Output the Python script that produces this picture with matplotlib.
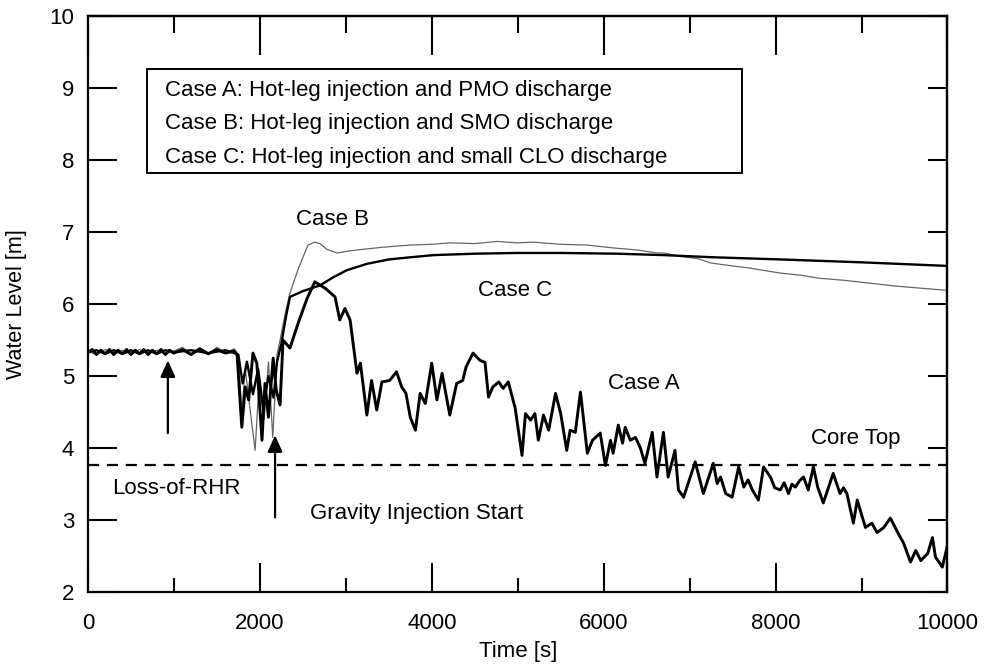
import numpy as np
import matplotlib
matplotlib.use("Agg")
import matplotlib.pyplot as plt
from matplotlib.patches import Rectangle

plt.rcParams['font.family'] = ['Liberation Sans', 'DejaVu Sans']

# Case A: hot-leg injection, PMO discharge
t_a = [0, 50, 100, 150, 200, 250, 300, 350, 400, 450, 500, 550, 600, 650, 700,
       750, 800, 850, 900, 950, 1000, 1100, 1200, 1300, 1400, 1500, 1600, 1700,
       1735, 1790, 1830, 1870, 1920, 1965, 2025, 2060, 2100, 2155, 2190, 2235,
       2270, 2350, 2450, 2550, 2640, 2760, 2875, 2930, 2990, 3050, 3130, 3170,
       3245, 3300, 3360, 3420, 3510, 3590, 3650, 3700, 3750, 3810, 3865, 3925,
       4000, 4060, 4120, 4210, 4290, 4360, 4400, 4480, 4560, 4620, 4660, 4710,
       4780, 4830, 4890, 4970, 5050, 5090, 5150, 5200, 5240, 5300, 5360, 5440,
       5500, 5570, 5610, 5670, 5730, 5810, 5870, 5960, 6020, 6080, 6110, 6170,
       6220, 6250, 6310, 6370, 6425, 6480, 6565, 6620, 6695, 6750, 6830, 6870,
       6930, 7065, 7160, 7275, 7320, 7360, 7420, 7495, 7570, 7630, 7680, 7730,
       7800, 7860, 7940, 7990, 8055, 8100, 8150, 8190, 8230, 8280, 8325, 8380,
       8440, 8490, 8555, 8670, 8750, 8790, 8830, 8905, 8950, 9045, 9120, 9180,
       9260, 9335, 9430, 9490, 9570, 9630, 9690, 9770, 9825, 9860, 9940, 10000]
lvl_a = [5.33, 5.37, 5.30, 5.36, 5.31, 5.37, 5.30, 5.36, 5.31, 5.37, 5.30, 5.36,
         5.31, 5.37, 5.30, 5.36, 5.31, 5.37, 5.30, 5.36, 5.32, 5.37, 5.30, 5.38,
         5.31, 5.37, 5.32, 5.35, 5.30, 4.29, 4.85, 4.67, 5.32, 5.18, 4.11, 4.90,
         4.43, 5.25, 4.81, 4.60, 5.50, 5.39, 5.75, 6.08, 6.31, 6.22, 6.10, 5.78,
         5.94, 5.78, 5.04, 5.18, 4.46, 4.94, 4.53, 4.92, 4.94, 5.06, 4.85, 4.76,
         4.43, 4.25, 4.76, 4.62, 5.18, 4.67, 5.04, 4.46, 4.90, 4.94, 5.13, 5.32,
         5.22, 5.19, 4.71, 4.85, 4.92, 4.83, 4.92, 4.56, 3.90, 4.48, 4.39, 4.48,
         4.11, 4.46, 4.25, 4.76, 4.48, 3.97, 4.25, 4.22, 4.78, 3.93, 4.11, 4.21,
         3.76, 4.11, 3.93, 4.32, 4.07, 4.29, 4.11, 4.15, 4.01, 3.79, 4.22, 3.60,
         4.22, 3.60, 3.97, 3.42, 3.32, 3.81, 3.37, 3.79, 3.51, 3.60, 3.37, 3.32,
         3.74, 3.46, 3.56, 3.42, 3.28, 3.74, 3.60, 3.45, 3.42, 3.52, 3.37, 3.50,
         3.46, 3.55, 3.60, 3.42, 3.74, 3.46, 3.24, 3.65, 3.37, 3.45, 3.37, 2.96,
         3.28, 2.90, 2.96, 2.83, 2.90, 3.03, 2.81, 2.68, 2.42, 2.58, 2.44, 2.54,
         2.76, 2.49, 2.35, 2.65]

# Case B: hot-leg injection, SMO discharge
t_b = [0, 100, 200, 300, 400, 500, 600, 700, 800, 900, 1000, 1100, 1200, 1300,
       1400, 1500, 1600, 1700, 1750, 1790, 1830, 1880, 1945, 1990, 2050, 2100,
       2150, 2200, 2235, 2300, 2350, 2450, 2560, 2640, 2700, 2780, 2900, 3050,
       3200, 3430, 3750, 4000, 4210, 4500, 4760, 5000, 5180, 5500, 5800, 6110,
       6400, 6620, 6700, 6900, 7100, 7250, 7500, 7700, 7850, 8060, 8300, 8500,
       8800, 9100, 9400, 9700, 10000]
lvl_b = [5.34, 5.30, 5.37, 5.31, 5.36, 5.30, 5.37, 5.31, 5.36, 5.31, 5.35, 5.40,
         5.31, 5.39, 5.30, 5.40, 5.32, 5.38, 5.30, 4.50, 5.10, 4.60, 3.97, 4.90,
         4.40, 5.20, 4.15, 5.30, 5.50, 5.90, 6.15, 6.50, 6.82, 6.86, 6.84, 6.76,
         6.71, 6.74, 6.76, 6.79, 6.82, 6.83, 6.85, 6.84, 6.87, 6.85, 6.86, 6.83,
         6.82, 6.78, 6.75, 6.71, 6.71, 6.66, 6.63, 6.57, 6.53, 6.50, 6.47, 6.43,
         6.40, 6.36, 6.33, 6.29, 6.25, 6.22, 6.19]

# Case C: hot-leg injection, small CLO discharge
t_c = [0, 100, 200, 300, 400, 500, 600, 700, 800, 900, 1000, 1200, 1400, 1600,
       1750, 1800, 1850, 1920, 1980, 2040, 2100, 2160, 2200, 2250, 2300, 2350,
       2500, 2700, 2850, 3010, 3250, 3500, 3750, 4020, 4500, 5000, 5500, 6150,
       6700, 7280, 8060, 9000, 10000]
lvl_c = [5.33, 5.36, 5.31, 5.36, 5.31, 5.36, 5.31, 5.36, 5.31, 5.36, 5.33, 5.36,
         5.32, 5.36, 5.30, 4.90, 5.20, 4.75, 5.10, 4.55, 5.00, 4.70, 5.20, 5.45,
         5.80, 6.10, 6.18, 6.26, 6.37, 6.47, 6.56, 6.62, 6.65, 6.68, 6.70, 6.71,
         6.71, 6.70, 6.68, 6.65, 6.62, 6.58, 6.53]

core_top = 3.77
t_loss_rhr = 930
t_gravity = 2177

fig = plt.figure(figsize=(9.88, 6.64), dpi=100)
ax = fig.add_axes([0.089, 0.108, 0.87, 0.868])

ax.plot(t_b, lvl_b, color='#666666', lw=0.9, zorder=2)
ax.plot(t_c, lvl_c, color='black', lw=1.7, zorder=3)
ax.plot(t_a, lvl_a, color='black', lw=2.1, zorder=4)
ax.plot([0, 10000], [core_top, core_top], color='black', lw=1.6,
        ls=(0, (5, 3.5)), zorder=1)

arrow = dict(arrowstyle='-|>,head_width=0.45,head_length=1.0', color='black',
             lw=1.6, shrinkA=0, shrinkB=0)
ax.annotate('', xy=(t_loss_rhr, 5.22), xytext=(t_loss_rhr, 4.21), arrowprops=arrow)
ax.annotate('', xy=(t_gravity, 4.18), xytext=(t_gravity, 3.04), arrowprops=arrow)

fs = 16
ax.text(2850, 7.17, 'Case B', fontsize=fs, ha='center', va='center')
ax.text(4970, 6.19, 'Case C', fontsize=fs, ha='center', va='center')
ax.text(6470, 4.90, 'Case A', fontsize=fs, ha='center', va='center')
ax.text(8930, 4.14, 'Core Top', fontsize=fs, ha='center', va='center')
ax.text(1025, 3.44, 'Loss-of-RHR', fontsize=fs, ha='center', va='center')
ax.text(2585, 3.10, 'Gravity Injection Start', fontsize=fs, ha='left', va='center')

ax.add_patch(Rectangle((0.0687, 0.727), 0.692, 0.181, transform=ax.transAxes,
                       fill=False, ec='black', lw=1.4, zorder=5))
case_lines = ['Case A: Hot-leg injection and PMO discharge',
              'Case B: Hot-leg injection and SMO discharge',
              'Case C: Hot-leg injection and small CLO discharge']
for y, s in zip([0.870, 0.813, 0.755], case_lines):
    ax.text(0.0896, y, s, transform=ax.transAxes, fontsize=fs, va='center')

ax.set_xlim(0, 10000)
ax.set_ylim(2, 10)
ax.set_xticks(np.arange(0, 10001, 2000))
ax.set_xticks(np.arange(1000, 10000, 2000), minor=True)
ax.set_yticks(np.arange(2, 11, 1))
ax.tick_params(axis='both', which='both', direction='in', width=1.5, labelsize=fs)
ax.tick_params(axis='x', which='major', length=21, pad=15)
ax.tick_params(axis='x', which='minor', length=10)
ax.tick_params(axis='y', which='major', length=21, pad=10)

top = ax.secondary_xaxis('top')
top.set_xticks(np.arange(0, 10001, 2000))
top.set_xticks(np.arange(1000, 10000, 2000), minor=True)
top.tick_params(which='major', direction='in', length=28, width=1.5, labeltop=False)
top.tick_params(which='minor', direction='in', length=12, width=1.5)
right = ax.secondary_yaxis('right')
right.set_yticks(np.arange(2, 11, 1))
right.tick_params(direction='in', length=14, width=1.5, labelright=False)

for sp in list(ax.spines.values()) + [top.spines['top'], right.spines['right']]:
    sp.set_linewidth(1.6)

ax.set_xlabel('Time [s]', fontsize=fs, labelpad=5)
ax.set_ylabel('Water Level [m]', fontsize=15.5, labelpad=16)

fig.savefig('out.png', dpi=100)
